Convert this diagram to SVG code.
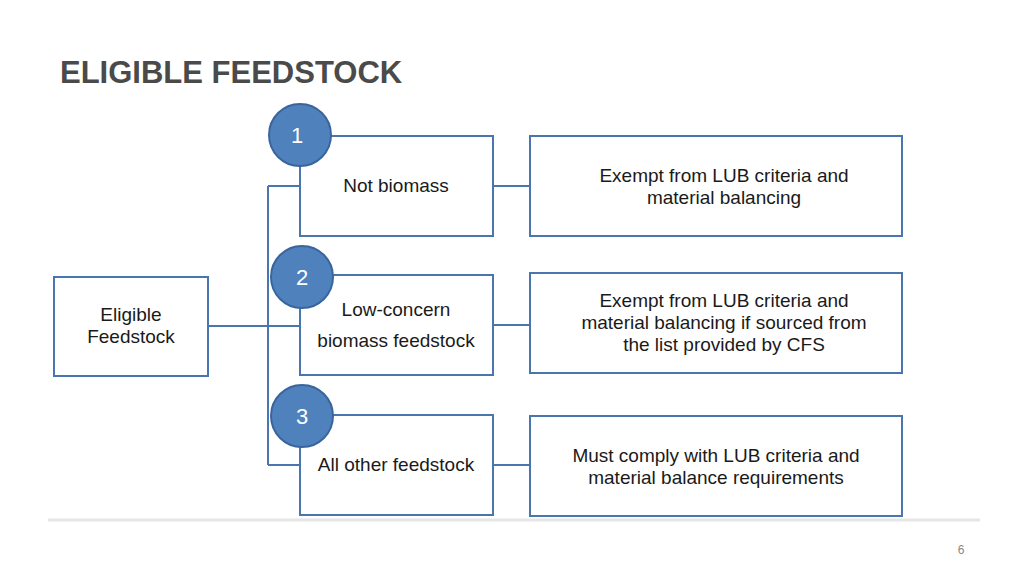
<svg xmlns="http://www.w3.org/2000/svg" width="1024" height="576" viewBox="0 0 1024 576">
<style>
.box{fill:#fff;stroke:#4a76b0;stroke-width:2}
.c{fill:#4f81bd;stroke:#3a659c;stroke-width:2}
.ln{fill:none;stroke:#4a76b0;stroke-width:2}
text{font-family:"Liberation Sans",Arial,sans-serif;font-size:19px;fill:#1a1a1a;text-anchor:middle}
.n{fill:#fff;font-size:22px}
</style>
<rect width="1024" height="576" fill="#fff"/>
<text x="60" y="83" style="font-size:31px;font-weight:bold;fill:#4a4a4a;text-anchor:start">ELIGIBLE FEEDSTOCK</text>
<line x1="48" y1="520" x2="980" y2="520" stroke="#e6e6e6" stroke-width="3"/>
<text x="961" y="554" style="font-size:12px;fill:#888">6</text>
<g id="connectors">
<path class="ln" d="M208 326H300M268 186V465M268 186H300M268 465H300M493 186H530M493 325H530M493 465H530"/>
</g>
<g id="root"><rect class="box" x="54" y="277" width="154" height="99"/><text x="131" y="321">Eligible</text><text x="131" y="343">Feedstock</text></g>
<g id="n1"><rect class="box" x="300" y="136" width="193" height="100"/><text x="396" y="192">Not biomass</text></g>
<g id="n2"><rect class="box" x="300" y="275" width="193" height="100"/><text x="396" y="316">Low-concern</text><text x="396" y="347">biomass feedstock</text></g>
<g id="n3"><rect class="box" x="300" y="415" width="193" height="100"/><text x="396" y="471">All other feedstock</text></g>
<g id="r1"><rect class="box" x="530" y="136" width="372" height="100"/><text x="724" y="182">Exempt from LUB criteria and</text><text x="724" y="204">material balancing</text></g>
<g id="r2"><rect class="box" x="530" y="273" width="372" height="100"/><text x="724" y="307">Exempt from LUB criteria and</text><text x="724" y="329">material balancing if sourced from</text><text x="724" y="351">the list provided by CFS</text></g>
<g id="r3"><rect class="box" x="530" y="416" width="372" height="100"/><text x="716" y="462">Must comply with LUB criteria and</text><text x="716" y="484">material balance requirements</text></g>
<g id="c1"><circle class="c" cx="300" cy="135" r="31"/><text class="n" x="297" y="143">1</text></g>
<g id="c2"><circle class="c" cx="302" cy="277" r="31"/><text class="n" x="302" y="285">2</text></g>
<g id="c3"><circle class="c" cx="302" cy="416" r="31"/><text class="n" x="302" y="424">3</text></g>
</svg>
